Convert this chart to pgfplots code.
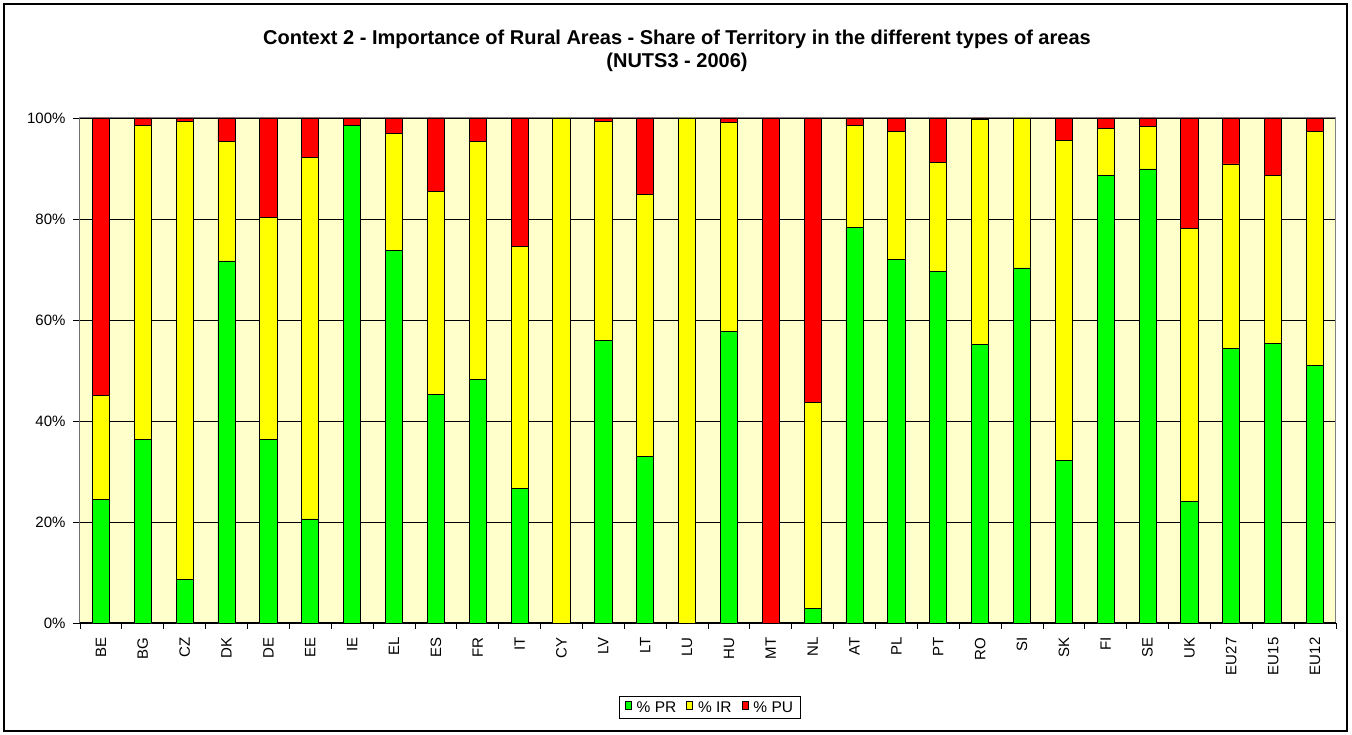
\documentclass[border=0pt]{standalone}
\usepackage{fontspec}
\setmainfont{Liberation Sans}
\usepackage{pgfplots}
\usepackage{pgfplotstable}
\pgfplotsset{compat=1.18}
\definecolor{plotbg}{HTML}{FFFFCC}
\definecolor{prgreen}{HTML}{00FF00}
\definecolor{iryellow}{HTML}{FFFF00}
\definecolor{pured}{HTML}{FF0000}
\newcommand\tickfont{\fontsize{15}{18}\selectfont}
\newcommand\legfont{\fontsize{15.5}{18}\selectfont}

% share of territory (%) by type of area, NUTS3 2006
\pgfplotstableread{
idx PR   IR    PU
0   24.4 20.6  55.0
1   36.4 62.2  1.4
2   8.6  90.7  0.7
3   71.7 23.6  4.7
4   36.4 43.9  19.7
5   20.6 71.5  7.9
6   98.6 0.0   1.4
7   73.8 23.1  3.1
8   45.3 40.1  14.6
9   48.2 47.2  4.6
10  26.7 47.8  25.5
11  0.0  100.0 0.0
12  55.9 43.4  0.7
13  32.9 52.0  15.1
14  0.0  100.0 0.0
15  57.8 41.4  0.8
16  0.0  0.0   100.0
17  2.8  40.9  56.3
18  78.3 20.3  1.4
19  72.0 25.3  2.7
20  69.6 21.6  8.8
21  55.2 44.5  0.3
22  70.3 29.7  0.0
23  32.1 63.5  4.4
24  88.6 9.3   2.1
25  89.9 8.4   1.7
26  24.1 54.1  21.8
27  54.4 36.5  9.1
28  55.4 33.3  11.3
29  51.0 46.4  2.6
}\areadata

\tikzset{sq/.style={legend image code/.code={\draw[##1] (0pt,-4.5pt) rectangle (9pt,4.5pt);}}}

\begin{document}
\begin{tikzpicture}
\begin{axis}[
  at={(0pt,0pt)}, anchor=south west,
  scale only axis,
  width=1256pt, height=505pt,
  ybar stacked,
  bar width=0.41,
  xmin=-0.5, xmax=29.5,
  ymin=0, ymax=100,
  xtick={0,...,29},
  xticklabels={BE,BG,CZ,DK,DE,EE,IE,EL,ES,FR,IT,CY,LV,LT,LU,HU,MT,NL,AT,PL,PT,RO,SI,SK,FI,SE,UK,EU27,EU15,EU12},
  minor xtick={-0.5,0.5,...,29.5},
  major x tick style={draw opacity=0},
  minor tick length=6pt,
  major tick length=7pt,
  ytick={0,20,40,60,80,100},
  yticklabels={0\%,20\%,40\%,60\%,80\%,100\%},
  tick align=outside,
  xtick pos=bottom, ytick pos=left,
  tick style={black, line width=0.8pt},
  ticklabel style={font=\tickfont},
  xticklabel style={rotate=90, anchor=east},
  xticklabel shift=4pt,
  yticklabel shift=4pt,
  ymajorgrids=true,
  major grid style={black, line width=0.8pt},
  axis line style={draw=gray, line width=1pt},
  axis background/.style={fill=plotbg},
  legend columns=3,
  legend style={
    at={(0.5016,-0.1673)}, anchor=center,
    draw=black, fill=white, line width=0.8pt,
    font=\legfont, inner xsep=5pt, inner ysep=3pt,
    /tikz/every odd column/.append style={column sep=3pt},
    /tikz/every even column/.append style={column sep=8pt},
  },
]
\addplot[fill=prgreen, draw=black, line width=0.8pt, sq] table[x=idx, y=PR] {\areadata};
\addplot[fill=iryellow, draw=black, line width=0.8pt, sq] table[x=idx, y=IR] {\areadata};
\addplot[fill=pured, draw=black, line width=0.8pt, sq] table[x=idx, y=PU] {\areadata};
\legend{\% PR, \% IR, \% PU}
\draw[black, line width=1pt] (rel axis cs:0,1) -- (rel axis cs:0,0) -- (rel axis cs:1,0);
\end{axis}
\node[anchor=base, font=\bfseries\fontsize{20}{24}\selectfont] at (597pt,578pt)
  {Context 2 - Importance of Rural Areas - Share of Territory in the different types of areas};
\node[anchor=base, font=\bfseries\fontsize{20}{24}\selectfont] at (597pt,555pt) {(NUTS3 - 2006)};
\draw[black, line width=1.2pt] (-76pt,-108pt) rectangle (1267pt,619pt);
\pgfresetboundingbox
\useasboundingbox (-80pt,-112pt) rectangle (1272pt,623pt);
\end{tikzpicture}
\end{document}
